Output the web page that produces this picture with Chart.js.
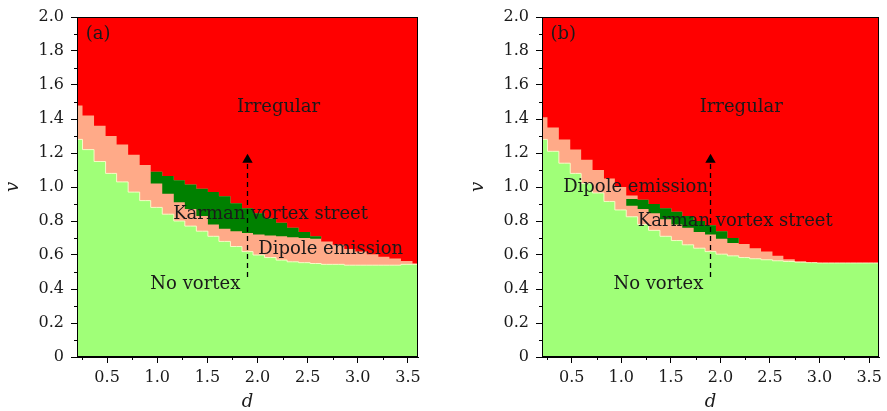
<!DOCTYPE html>
<html>
<head>
<meta charset="utf-8">
<script src="https://cdn.jsdelivr.net/npm/chart.js@4.4.1/dist/chart.umd.min.js"></script>
<style>
    html, body { margin: 0; padding: 0; background: #fff; overflow: hidden; }
    .panel { position: absolute; top: 0; }
</style>
</head>
<body>
<div class="panel" style="left:0"><canvas id="chartA" width="443" height="411"></canvas></div>
<div class="panel" style="left:465px"><canvas id="chartB" width="422" height="411"></canvas></div>
<script>
// grid of d values (cell centres of the phase diagram)
const dGrid = [0.2, 0.31, 0.43, 0.54, 0.65, 0.77, 0.88, 0.99, 1.11, 1.22, 1.33, 1.45, 1.56, 1.67, 1.79, 1.9,
    2.01, 2.13, 2.24, 2.35, 2.47, 2.58, 2.69, 2.81, 2.92, 3.03, 3.15, 3.26, 3.37, 3.49, 3.6];

// panel (a): lower edge of "Irregular" and upper edge of "No vortex"
const redA = [1.48, 1.42, 1.36, 1.30, 1.25, 1.19, 1.13, 1.09, 1.065, 1.04, 1.015, 0.99, 0.97, 0.945, 0.905, 0.875,
    0.845, 0.815, 0.79, 0.76, 0.735, 0.71, 0.68, 0.66, 0.635, 0.62, 0.605, 0.59, 0.58, 0.565, 0.55];
const greenA = [1.28, 1.22, 1.15, 1.08, 1.03, 0.97, 0.92, 0.88, 0.84, 0.80, 0.77, 0.74, 0.71, 0.68, 0.65, 0.62,
    0.60, 0.585, 0.57, 0.56, 0.555, 0.55, 0.545, 0.545, 0.54, 0.54, 0.54, 0.54, 0.54, 0.545, 0.545];
// panel (a): Karman vortex street band
const karmanDA = [0.88, 0.99, 1.11, 1.22, 1.33, 1.45, 1.56, 1.67, 1.79, 1.9, 2.01, 2.13, 2.24, 2.35, 2.47, 2.58, 2.69];
const karmanTopA = [1.09, 1.09, 1.065, 1.04, 1.015, 0.99, 0.97, 0.945, 0.905, 0.875, 0.845, 0.815, 0.79, 0.76, 0.735, 0.71, 0.69];
const karmanBottomA = [1.09, 1.02, 0.96, 0.91, 0.87, 0.83, 0.78, 0.755, 0.74, 0.73, 0.72, 0.715, 0.71, 0.705, 0.70, 0.695, 0.69];

// panel (b)
const redB = [1.41, 1.35, 1.28, 1.22, 1.16, 1.10, 1.05, 1.00, 0.95, 0.925, 0.90, 0.875, 0.855, 0.83, 0.80, 0.775,
    0.74, 0.70, 0.665, 0.64, 0.62, 0.595, 0.575, 0.562, 0.555, 0.553, 0.553, 0.553, 0.553, 0.553, 0.553];
const greenB = [1.28, 1.21, 1.14, 1.08, 1.02, 0.965, 0.915, 0.865, 0.825, 0.78, 0.745, 0.71, 0.685, 0.66, 0.64, 0.62,
    0.605, 0.595, 0.585, 0.578, 0.572, 0.566, 0.562, 0.558, 0.555, 0.553, 0.553, 0.553, 0.553, 0.553, 0.553];
const karmanDB = [0.99, 1.11, 1.22, 1.33, 1.45, 1.56, 1.67, 1.79, 1.9, 2.01, 2.13, 2.24];
const karmanTopB = [0.93, 0.93, 0.925, 0.90, 0.875, 0.855, 0.83, 0.80, 0.775, 0.74, 0.70, 0.665];
const karmanBottomB = [0.93, 0.89, 0.87, 0.845, 0.81, 0.78, 0.76, 0.735, 0.72, 0.695, 0.67, 0.665];

// dashed arrow (same in both panels)
const arrowD = [1.9, 1.9];
const arrowV = [0.47, 1.16];

// axis ticks
const dMajor = [0.5, 1.0, 1.5, 2.0, 2.5, 3.0, 3.5];
const dMinor = [0.25, 0.75, 1.25, 1.75, 2.25, 2.75, 3.25];
const vMajor = [0, 0.2, 0.4, 0.6, 0.8, 1.0, 1.2, 1.4, 1.6, 1.8, 2.0];
const vMinor = [0.1, 0.3, 0.5, 0.7, 0.9, 1.1, 1.3, 1.5, 1.7, 1.9];

// region labels
const labelsA = ['Irregular', 'Karman vortex street', 'Dipole emission', 'No vortex', '(a)'];
const labelDA = [2.21, 2.13, 2.73, 1.38, 0.41];
const labelVA = [1.47, 0.837, 0.631, 0.425, 1.896];
const labelsB = ['Irregular', 'Dipole emission', 'Karman vortex street', 'No vortex', '(b)'];
const labelDB = [2.21, 1.144, 2.15, 1.374, 0.414];
const labelVB = [1.47, 1.0, 0.798, 0.425, 1.896];

// colours
const RED = '#ff0000';
const SALMON = '#ffaa88';
const LIGHT_GREEN = '#a0ff78';
const DARK_GREEN = '#008000';
const SERIF = '"DejaVu Serif", serif';

const pts = (xs, ys) => xs.map((d, i) => ({ x: d, y: ys[i] }));

// salmon background, frame, minor ticks and region labels
const phaseExtras = {
    id: 'phaseExtras',
    beforeDatasetsDraw(chart) {
        const { ctx, chartArea: a } = chart;
        ctx.save();
        ctx.fillStyle = SALMON;
        ctx.fillRect(a.left, a.top, a.width, a.height);
        ctx.restore();
    },
    afterDraw(chart) {
        const { ctx, chartArea: a, scales: { x, y } } = chart;
        const cfg = chart.options.plugins.phaseExtras;
        ctx.save();
        ctx.strokeStyle = '#000';
        ctx.lineWidth = 1;
        ctx.strokeRect(a.left + 0.5, a.top + 0.5, a.width - 1, a.height - 1);

        ctx.beginPath();
        dMinor.forEach(d => {
            const px = Math.round(x.getPixelForValue(d)) + 0.5;
            ctx.moveTo(px, a.bottom);
            ctx.lineTo(px, a.bottom + 3);
        });
        vMinor.forEach(v => {
            const py = Math.round(y.getPixelForValue(v)) + 0.5;
            ctx.moveTo(a.left, py);
            ctx.lineTo(a.left - 3, py);
        });
        ctx.stroke();

        ctx.font = '18px ' + SERIF;
        ctx.fillStyle = '#1a1a1a';
        ctx.textAlign = 'center';
        ctx.textBaseline = 'middle';
        cfg.labels.forEach((t, i) => {
            ctx.fillText(t, x.getPixelForValue(cfg.d[i]), y.getPixelForValue(cfg.v[i]));
        });
        ctx.restore();
    }
};

function makePanel(id, red, green, kD, kTop, kBottom, labels, labelD, labelV, rightPad) {
    const step = { stepped: 'middle', pointRadius: 0, borderWidth: 0 };
    return new Chart(document.getElementById(id), {
        type: 'line',
        data: {
            datasets: [
                {
                    data: pts(arrowD, arrowV), borderColor: '#000', borderWidth: 1.3, borderDash: [5, 4],
                    pointRadius: [0, 6], pointStyle: 'triangle', pointBackgroundColor: '#000',
                    pointBorderWidth: 0, fill: false, order: 0
                },
                { ...step, data: pts(kD, kTop), backgroundColor: DARK_GREEN, fill: '+1', order: 1 },
                { ...step, data: pts(kD, kBottom), fill: false, order: 2 },
                {
                    ...step, data: pts(dGrid, green), backgroundColor: LIGHT_GREEN, fill: 'start',
                    borderWidth: 1, borderColor: 'rgba(250,255,205,0.9)', order: 3
                },
                { ...step, data: pts(dGrid, red), backgroundColor: RED, fill: 'end', order: 4 }
            ]
        },
        options: {
            responsive: false,
            animation: false,
            devicePixelRatio: 1,
            layout: { padding: { left: 0, top: 17, right: rightPad, bottom: 0 } },
            plugins: {
                legend: { display: false },
                tooltip: { enabled: false },
                phaseExtras: { labels, d: labelD, v: labelV }
            },
            scales: {
                x: {
                    type: 'linear', min: 0.2, max: 3.6,
                    afterBuildTicks: s => { s.ticks = dMajor.map(value => ({ value })); },
                    afterFit: s => { s.height = 54; },
                    grid: { drawOnChartArea: false, drawTicks: true, tickLength: 6, color: '#000' },
                    border: { display: true, color: '#000', width: 1 },
                    ticks: {
                        color: '#1a1a1a', padding: 5, maxRotation: 0,
                        font: { family: SERIF, size: 16 },
                        callback: v => v.toFixed(1)
                    },
                    title: {
                        display: true, text: 'd', color: '#1a1a1a',
                        font: { family: SERIF, size: 18, style: 'italic', lineHeight: 1 },
                        padding: { top: 0, bottom: 0 }
                    }
                },
                y: {
                    type: 'linear', min: 0, max: 2,
                    afterBuildTicks: s => { s.ticks = vMajor.map(value => ({ value })); },
                    afterFit: s => { s.width = 77; },
                    grid: { drawOnChartArea: false, drawTicks: true, tickLength: 6, color: '#000' },
                    border: { display: true, color: '#000', width: 1 },
                    ticks: {
                        color: '#1a1a1a', padding: 7,
                        font: { family: SERIF, size: 16 },
                        callback: v => v === 0 ? '0' : v.toFixed(1)
                    },
                    title: {
                        display: true, text: 'v', color: '#1a1a1a',
                        font: { family: SERIF, size: 18, style: 'italic', lineHeight: 1 },
                        padding: { top: 4, bottom: 0 }
                    }
                }
            }
        },
        plugins: [phaseExtras]
    });
}

makePanel('chartA', redA, greenA, karmanDA, karmanTopA, karmanBottomA, labelsA, labelDA, labelVA, 25);
makePanel('chartB', redB, greenB, karmanDB, karmanTopB, karmanBottomB, labelsB, labelDB, labelVB, 4);
</script>
</body>
</html>
